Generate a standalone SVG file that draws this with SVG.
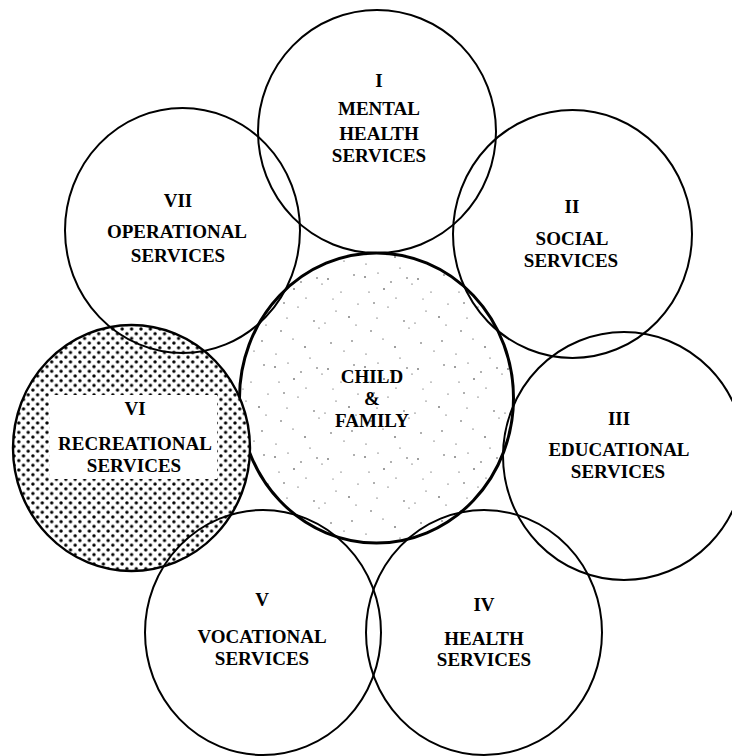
<svg xmlns="http://www.w3.org/2000/svg" width="732" height="756" viewBox="0 0 732 756">
<defs>
<pattern id="stipple" patternUnits="userSpaceOnUse" width="90" height="90">
<g fill="#222">
<circle cx="5" cy="7" r="0.8"/><circle cx="18" cy="3" r="0.6"/><circle cx="31" cy="12" r="0.7"/><circle cx="9" cy="22" r="0.6"/><circle cx="24" cy="19" r="0.8"/><circle cx="36" cy="28" r="0.6"/><circle cx="14" cy="33" r="0.7"/><circle cx="28" cy="37" r="0.6"/><circle cx="47" cy="8" r="0.7"/><circle cx="52" cy="14" r="0.6"/><circle cx="58" cy="9" r="0.8"/><circle cx="71" cy="22" r="0.6"/><circle cx="84" cy="5" r="0.7"/><circle cx="66" cy="41" r="0.6"/><circle cx="79" cy="47" r="0.8"/><circle cx="86" cy="55" r="0.6"/><circle cx="44" cy="51" r="0.7"/><circle cx="49" cy="58" r="0.6"/><circle cx="55" cy="53" r="0.6"/><circle cx="11" cy="61" r="0.7"/><circle cx="23" cy="69" r="0.6"/><circle cx="35" cy="77" r="0.8"/><circle cx="6" cy="84" r="0.6"/><circle cx="61" cy="73" r="0.7"/><circle cx="74" cy="81" r="0.6"/><circle cx="82" cy="71" r="0.7"/><circle cx="40" cy="88" r="0.6"/><circle cx="17" cy="48" r="0.6"/><circle cx="63" cy="29" r="0.5"/><circle cx="88" cy="34" r="0.6"/>
</g>
</pattern>
<pattern id="halftone" patternUnits="userSpaceOnUse" width="9.4" height="9.4">
<rect width="9.4" height="9.4" fill="#fff"/>
<circle cx="0" cy="0" r="1.7"/><circle cx="9.4" cy="0" r="1.7"/><circle cx="0" cy="9.4" r="1.7"/><circle cx="9.4" cy="9.4" r="1.7"/><circle cx="4.7" cy="4.7" r="1.7"/>
</pattern>
</defs>
<style>
.ring{fill:none;stroke:#000;stroke-width:2}
.core{fill:url(#stipple);stroke:#000;stroke-width:3}
.dot{fill:url(#halftone);stroke:#000;stroke-width:2.4}
text{font-family:"Liberation Serif","Times New Roman",serif;font-weight:bold;font-size:19px;text-anchor:middle;fill:#000}
</style>
<rect width="732" height="756" fill="#fff"/>
<g id="child-family">
<ellipse class="core" cx="376.5" cy="398" rx="137" ry="145"/>
<text x="372" y="383">CHILD</text>
<text x="372" y="405">&amp;</text>
<text x="372" y="427">FAMILY</text>
</g>
<g id="vi-recreational">
<ellipse class="dot" cx="131.5" cy="448" rx="118.5" ry="123"/>
<rect x="50" y="395" width="167" height="84" fill="#fff"/>
<text x="135" y="415">VI</text>
<text x="135" y="450">RECREATIONAL</text>
<text x="134" y="472">SERVICES</text>
</g>
<g id="i-mental-health">
<ellipse class="ring" cx="377" cy="131.5" rx="119" ry="121.5"/>
<text x="379" y="87">I</text>
<text x="379" y="115">MENTAL</text>
<text x="379" y="140">HEALTH</text>
<text x="379" y="162">SERVICES</text>
</g>
<g id="ii-social">
<ellipse class="ring" cx="572.5" cy="234" rx="119.5" ry="124"/>
<text x="572" y="213">II</text>
<text x="572" y="245">SOCIAL</text>
<text x="571" y="267">SERVICES</text>
</g>
<g id="iii-educational">
<ellipse class="ring" cx="624" cy="456" rx="121" ry="124"/>
<text x="619" y="425">III</text>
<text x="619" y="456">EDUCATIONAL</text>
<text x="618" y="478">SERVICES</text>
</g>
<g id="iv-health">
<ellipse class="ring" cx="484" cy="632.5" rx="118" ry="122.5"/>
<text x="484" y="611">IV</text>
<text x="484" y="645">HEALTH</text>
<text x="484" y="666">SERVICES</text>
</g>
<g id="v-vocational">
<ellipse class="ring" cx="263" cy="632.5" rx="118" ry="122.5"/>
<text x="262" y="606">V</text>
<text x="262" y="643">VOCATIONAL</text>
<text x="262" y="665">SERVICES</text>
</g>
<g id="vii-operational">
<ellipse class="ring" cx="182.5" cy="230.5" rx="117.5" ry="122.5"/>
<text x="178" y="207">VII</text>
<text x="177" y="238">OPERATIONAL</text>
<text x="178" y="262">SERVICES</text>
</g>
</svg>
